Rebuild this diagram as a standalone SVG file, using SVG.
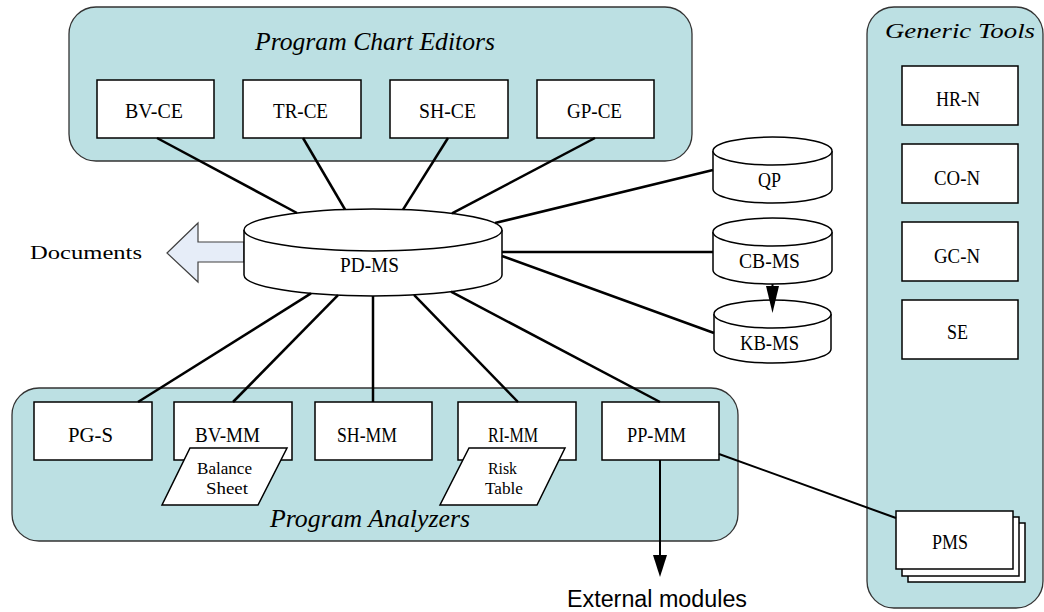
<svg xmlns="http://www.w3.org/2000/svg" width="1044" height="612" viewBox="0 0 1044 612">
<style>
.cont{fill:#bce0e3;stroke:#333;stroke-width:1.3}
.box{fill:#fff;stroke:#000;stroke-width:1.5}
.cyl{fill:#fff;stroke:#000;stroke-width:1.5}
.lbl{font-family:"Liberation Serif",serif;font-size:21px;text-anchor:middle;fill:#000}
.sm{font-family:"Liberation Serif",serif;font-size:16px;text-anchor:middle;fill:#000}
.ttl{font-family:"Liberation Serif",serif;font-style:italic;font-size:25px;text-anchor:middle;fill:#000}
.conn{stroke:#000;stroke-width:2.5;fill:none}
.conn1{stroke:#000;stroke-width:2;fill:none}
</style>
<rect width="1044" height="612" fill="#fff"/>
<g id="program-chart-editors">
<rect class="cont" x="69" y="7" width="623" height="154" rx="27"/>
<text class="ttl" x="375" y="50" textLength="240" lengthAdjust="spacingAndGlyphs">Program Chart Editors</text>
</g>
<g id="program-analyzers">
<rect class="cont" x="12" y="388" width="726" height="153" rx="27"/>
<text class="ttl" x="370" y="527" textLength="200" lengthAdjust="spacingAndGlyphs">Program Analyzers</text>
</g>
<g id="generic-tools">
<rect class="cont" x="867" y="7" width="176" height="601" rx="27"/>
<text class="ttl" style="font-size:20px" x="960" y="38" textLength="150" lengthAdjust="spacingAndGlyphs">Generic Tools</text>
</g>
<g id="bv-ce"><rect class="box" x="97" y="80" width="117" height="58"/><text class="lbl" x="154" y="118" textLength="58" lengthAdjust="spacingAndGlyphs">BV-CE</text></g>
<g id="tr-ce"><rect class="box" x="243" y="80" width="118" height="58"/><text class="lbl" x="300.5" y="118" textLength="55" lengthAdjust="spacingAndGlyphs">TR-CE</text></g>
<g id="sh-ce"><rect class="box" x="390" y="80" width="118" height="58"/><text class="lbl" x="447.5" y="118" textLength="57" lengthAdjust="spacingAndGlyphs">SH-CE</text></g>
<g id="gp-ce"><rect class="box" x="537" y="80" width="117" height="58"/><text class="lbl" x="594.5" y="118" textLength="55" lengthAdjust="spacingAndGlyphs">GP-CE</text></g>
<g id="documents">
<polygon points="167,253 198,223 198,242 244,242 244,262 198,262 198,282" fill="#e6edf8" stroke="#404040" stroke-width="1.2"/>
<text class="lbl" style="font-size:19px" x="86" y="259" textLength="112" lengthAdjust="spacingAndGlyphs">Documents</text>
</g>
<g id="pd-ms">
<path class="cyl" d="M244,230 V275 A129,21 0 0 0 502,275 V230 A129,21 0 0 0 244,230 Z"/>
<path class="cyl" fill="none" d="M244,230 A129,21 0 0 0 502,230"/>
<text class="lbl" x="369.5" y="272" textLength="59" lengthAdjust="spacingAndGlyphs">PD-MS</text>
</g>
<g id="qp">
<path class="cyl" d="M713,151 V189 A59.5,14 0 0 0 832,189 V151 A59.5,14 0 0 0 713,151 Z"/>
<path class="cyl" fill="none" d="M713,151 A59.5,14 0 0 0 832,151"/>
<text class="lbl" x="769.5" y="187" textLength="23" lengthAdjust="spacingAndGlyphs">QP</text>
</g>
<g id="cb-ms">
<path class="cyl" d="M713,232 V270 A59.5,14 0 0 0 832,270 V232 A59.5,14 0 0 0 713,232 Z"/>
<path class="cyl" fill="none" d="M713,232 A59.5,14 0 0 0 832,232"/>
<text class="lbl" x="769.5" y="268" textLength="61" lengthAdjust="spacingAndGlyphs">CB-MS</text>
</g>
<g id="kb-ms">
<path class="cyl" d="M714,314 V349 A58.5,14 0 0 0 831,349 V314 A58.5,14 0 0 0 714,314 Z"/>
<path class="cyl" fill="none" d="M714,314 A58.5,14 0 0 0 831,314"/>
<text class="lbl" x="769.5" y="350" textLength="59" lengthAdjust="spacingAndGlyphs">KB-MS</text>
</g>
<g id="pg-s"><rect class="box" x="34" y="402" width="118" height="58"/><text class="lbl" x="90.5" y="442" textLength="45" lengthAdjust="spacingAndGlyphs">PG-S</text></g>
<g id="bv-mm"><rect class="box" x="174" y="402" width="118" height="58"/><text class="lbl" x="227.5" y="442" textLength="65" lengthAdjust="spacingAndGlyphs">BV-MM</text></g>
<g id="sh-mm"><rect class="box" x="315" y="402" width="117" height="58"/><text class="lbl" x="367" y="442" textLength="60" lengthAdjust="spacingAndGlyphs">SH-MM</text></g>
<g id="ri-mm"><rect class="box" x="458" y="402" width="118" height="58"/><text class="lbl" x="513" y="442" textLength="50" lengthAdjust="spacingAndGlyphs">RI-MM</text></g>
<g id="pp-mm"><rect class="box" x="602" y="402" width="117" height="58"/><text class="lbl" x="656.5" y="442" textLength="59" lengthAdjust="spacingAndGlyphs">PP-MM</text></g>
<g id="balance-sheet">
<polygon class="box" points="190,448 287,448 258,505 162,505"/>
<text class="sm" x="224.5" y="474" textLength="55" lengthAdjust="spacingAndGlyphs">Balance</text>
<text class="sm" x="227" y="494" textLength="42" lengthAdjust="spacingAndGlyphs">Sheet</text>
</g>
<g id="risk-table">
<polygon class="box" points="469,448 565,448 537,505 440,505"/>
<text class="sm" x="502.5" y="474" textLength="29" lengthAdjust="spacingAndGlyphs">Risk</text>
<text class="sm" x="504" y="494" textLength="38" lengthAdjust="spacingAndGlyphs">Table</text>
</g>
<g id="hr-n"><rect class="box" x="902" y="66" width="116" height="59"/><text class="lbl" x="958" y="106" textLength="44" lengthAdjust="spacingAndGlyphs">HR-N</text></g>
<g id="co-n"><rect class="box" x="902" y="144" width="116" height="59"/><text class="lbl" x="957" y="185" textLength="46" lengthAdjust="spacingAndGlyphs">CO-N</text></g>
<g id="gc-n"><rect class="box" x="902" y="222" width="116" height="59"/><text class="lbl" x="957" y="263" textLength="46" lengthAdjust="spacingAndGlyphs">GC-N</text></g>
<g id="se"><rect class="box" x="902" y="300" width="116" height="59"/><text class="lbl" x="957.5" y="339" textLength="21" lengthAdjust="spacingAndGlyphs">SE</text></g>
<g id="pms">
<rect class="box" x="908" y="523" width="117" height="59"/>
<rect class="box" x="902" y="517" width="117" height="59"/>
<rect class="box" x="896" y="511" width="117" height="58"/>
<text class="lbl" x="950" y="549" textLength="36" lengthAdjust="spacingAndGlyphs">PMS</text>
</g>
<g id="external-modules">
<text x="657" y="607" font-family="'Liberation Sans',Arial,sans-serif" font-size="23" text-anchor="middle" textLength="180" lengthAdjust="spacingAndGlyphs">External modules</text>
</g>
<g id="connectors">
<line class="conn" x1="157" y1="138" x2="297" y2="213"/>
<line class="conn" x1="303" y1="138" x2="345" y2="209.5"/>
<line class="conn" x1="448" y1="138" x2="403" y2="209.6"/>
<line class="conn" x1="595" y1="138" x2="452" y2="213.4"/>
<line class="conn" x1="495" y1="223" x2="713" y2="170"/>
<line class="conn" x1="502" y1="252" x2="713" y2="252"/>
<line class="conn" x1="502" y1="256" x2="714" y2="333"/>
<line class="conn" x1="311" y1="293.4" x2="138" y2="402"/>
<line class="conn" x1="338" y1="295.2" x2="233" y2="402"/>
<line class="conn" x1="373" y1="296" x2="373" y2="402"/>
<line class="conn" x1="414" y1="294.9" x2="518" y2="402"/>
<line class="conn" x1="451" y1="291.7" x2="660" y2="402"/>
<line class="conn1" x1="719" y1="454" x2="896" y2="518"/>
<line class="conn1" x1="660" y1="460" x2="660" y2="556"/>
<polygon points="653,555 667,555 660,577" fill="#000"/>
<line class="conn1" x1="772.5" y1="284" x2="772.5" y2="290"/>
<polygon points="766,286 779,286 772.5,313" fill="#000"/>
</g>
</svg>
